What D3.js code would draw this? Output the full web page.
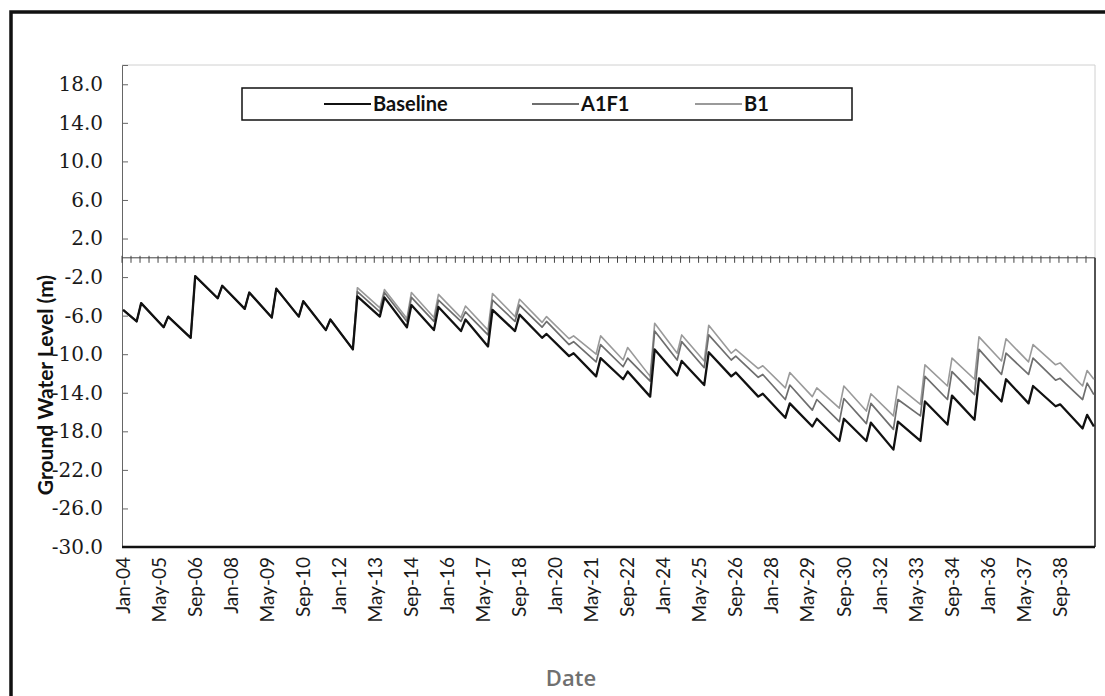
<!DOCTYPE html>
<html>
<head>
<meta charset="utf-8">
<script src="https://cdn.jsdelivr.net/npm/d3@7"></script>
<style>
    body { margin: 0; background: #fff; }
    svg { display: block; }
</style>
</head>
<body>
<svg id="chart" width="1105" height="696"></svg>
<script>
(function() {

    // monthly categories, Jan-04 .. Dec-39
    var months = d3.timeMonth.range(new Date(2004, 0, 1), new Date(2040, 0, 1));
    var monthKey = d3.timeFormat("%Y-%m");
    var monthLabel = d3.timeFormat("%b-%y");

    // turning points of the curves: Jan-04, then low (Jul) and high (Sep) of each year, then Dec-39
    var years = d3.range(2004, 2040);
    var turnDates = ["2004-01"];
    years.forEach(function(yr) { turnDates.push(yr + "-07", yr + "-09"); });
    turnDates.push("2039-12");

    var seriesNames = ["Baseline", "A1F1", "B1"];

    var baseline = [
        -5.4,
        -6.6, -4.7,   -7.2, -6.1,   -8.3, -1.9,   -4.2, -2.9,   -5.3, -3.6,   // 2004-2008
        -6.2, -3.2,   -6.1, -4.5,   -7.5, -6.4,   -9.5, -4.0,   -6.1, -4.1,   // 2009-2013
        -7.2, -4.9,   -7.5, -5.1,   -7.6, -6.4,   -9.2, -5.4,   -7.6, -5.9,   // 2014-2018
        -8.3, -7.9,  -10.2, -9.9,  -12.3, -10.4, -12.6, -11.8, -14.4, -9.5,   // 2019-2023
        -12.2, -10.7, -13.2, -9.8, -12.3, -11.9, -14.4, -14.1, -16.6, -15.1,  // 2024-2028
        -17.5, -16.7, -19.0, -16.7, -19.0, -17.1, -19.9, -17.0, -19.0, -14.9, // 2029-2033
        -17.3, -14.3, -16.8, -12.5, -14.9, -12.6, -15.1, -13.3, -15.4, -15.2, // 2034-2038
        -17.7, -16.3,
        -17.5
    ];

    var a1f1 = [
        -5.4,
        -6.6, -4.7,   -7.2, -6.1,   -8.3, -1.9,   -4.2, -2.9,   -5.3, -3.6,
        -6.2, -3.2,   -6.1, -4.5,   -7.5, -6.4,   -9.5, -3.5,   -5.6, -3.6,
        -6.6, -4.1,   -6.6, -4.4,   -6.6, -5.6,   -8.0, -4.4,   -6.6, -4.9,
        -7.2, -6.6,   -9.0, -8.7,  -10.8, -9.0,  -11.3, -10.4, -12.8, -7.6,
        -10.6, -8.7,  -11.4, -8.0, -10.6, -10.2, -12.4, -12.1, -14.7, -13.2,
        -15.8, -14.7, -17.0, -14.6, -17.2, -15.1, -17.8, -14.7, -16.4, -12.3,
        -14.7, -11.8, -14.2, -9.5, -12.1, -9.9,  -12.1, -10.4, -12.7, -12.5,
        -14.7, -13.0,
        -14.2
    ];

    var b1 = [
        -5.4,
        -6.6, -4.7,   -7.2, -6.1,   -8.3, -1.9,   -4.2, -2.9,   -5.3, -3.6,
        -6.2, -3.2,   -6.1, -4.5,   -7.5, -6.4,   -9.5, -3.1,   -5.2, -3.3,
        -6.3, -3.6,   -6.2, -3.8,   -6.2, -5.0,   -7.5, -3.7,   -6.1, -4.3,
        -6.7, -6.1,   -8.4, -8.1,  -10.0, -8.1,  -10.6, -9.3,  -12.3, -6.8,
        -9.9, -8.0,  -10.7, -7.0,   -9.9, -9.5,  -11.5, -11.2, -13.5, -11.9,
        -14.4, -13.5, -15.6, -13.3, -15.9, -14.1, -16.4, -13.3, -15.2, -11.1,
        -13.3, -10.4, -12.6, -8.2, -10.7, -8.4,  -10.8, -9.0,  -11.1, -10.9,
        -13.3, -11.7,
        -12.6
    ];

    var yTicks = d3.range(-30, 19, 4);

    //畫布
    var svg = d3.select("#chart");
    var plot = { left: 122, right: 1095, top: 65, bottom: 547 };

    var x = d3.scaleBand()
        .domain(months.map(monthKey))
        .range([plot.left, plot.right]);
    var xc = function(k) { return x(k) + x.bandwidth() / 2; };

    var y = d3.scaleLinear()
        .domain([-30, 20])
        .range([plot.bottom, plot.top]);

    // outer frame (top and left only, the rest is cut off in the scan)
    svg.append("path")
        .attr("d", "M11,696V12H1105")
        .attr("fill", "none")
        .attr("stroke", "#111")
        .attr("stroke-width", 3.5);

    // plot border
    svg.append("path")
        .attr("d", "M" + plot.left + "," + plot.top + "H" + plot.right + "V" + plot.bottom)
        .attr("fill", "none")
        .attr("stroke", "#d0d0d0")
        .attr("stroke-width", 1);
    svg.append("line")
        .attr("x1", plot.right).attr("x2", plot.right)
        .attr("y1", y(0)).attr("y2", plot.bottom)
        .attr("stroke", "#222").attr("stroke-width", 1.5);

    // value axis
    var yAxis = d3.axisLeft(y)
        .tickValues(yTicks)
        .tickSize(-6)
        .tickPadding(19)
        .tickFormat(function(d) { return d.toFixed(1); });

    var gy = svg.append("g")
        .attr("transform", "translate(" + plot.left + ",0)")
        .call(yAxis);
    gy.select(".domain").attr("stroke", "#666");
    gy.selectAll(".tick line").attr("stroke", "#666");
    gy.selectAll(".tick text")
        .attr("fill", "#1a1a1a")
        .style("font-family", "'DejaVu Serif', serif")
        .style("font-size", "20px");

    // category axis crossing at 0, with a tick every 4 months
    var zeroY = y(0);
    svg.append("line")
        .attr("x1", plot.left).attr("x2", plot.right)
        .attr("y1", zeroY).attr("y2", zeroY)
        .attr("stroke", "#444").attr("stroke-width", 1);

    svg.append("g").selectAll("line")
        .data(months.filter(function(d, i) { return i % 4 === 0; }))
        .enter().append("line")
        .attr("x1", function(d) { return x(monthKey(d)); })
        .attr("x2", function(d) { return x(monthKey(d)); })
        .attr("y1", zeroY - 2)
        .attr("y2", zeroY + 5)
        .attr("stroke", "#444")
        .attr("stroke-width", 1);

    // bottom edge of the plot
    svg.append("line")
        .attr("x1", plot.left).attr("x2", plot.right)
        .attr("y1", plot.bottom).attr("y2", plot.bottom)
        .attr("stroke", "#111").attr("stroke-width", 2.5);

    // date labels (every 16 months), rotated
    svg.append("g").selectAll("text")
        .data(months.filter(function(d, i) { return i % 16 === 0; }))
        .enter().append("text")
        .attr("transform", function(d) {
            return "translate(" + xc(monthKey(d)) + "," + (plot.bottom + 10) + ") rotate(-90)";
        })
        .attr("dy", "0.35em")
        .attr("text-anchor", "end")
        .attr("fill", "#1a1a1a")
        .style("font-family", "Lato, sans-serif")
        .style("font-size", "19px")
        .text(function(d) { return monthLabel(d); });

    // lines
    var line = d3.line()
        .x(function(d, i) { return xc(turnDates[i]); })
        .y(function(d) { return y(d); });

    var series = [
        { name: seriesNames[2], values: b1, color: "#9a9a9a", width: 1.6 },
        { name: seriesNames[1], values: a1f1, color: "#6e6e6e", width: 1.7 },
        { name: seriesNames[0], values: baseline, color: "#111", width: 2.3 }
    ];

    svg.append("g").selectAll("path")
        .data(series)
        .enter().append("path")
        .attr("d", function(d) { return line(d.values); })
        .attr("fill", "none")
        .attr("stroke", function(d) { return d.color; })
        .attr("stroke-width", function(d) { return d.width; })
        .attr("stroke-linejoin", "round");

    // legend
    var legend = svg.append("g");
    legend.append("rect")
        .attr("x", 242).attr("y", 88)
        .attr("width", 610).attr("height", 32)
        .attr("fill", "#fff")
        .attr("stroke", "#111")
        .attr("stroke-width", 1.5);

    var legendX = [324, 532, 695];
    var legendItems = series.slice().reverse();
    var li = legend.selectAll("g.item")
        .data(legendItems)
        .enter().append("g")
        .attr("class", "item")
        .attr("transform", function(d, i) { return "translate(" + legendX[i] + ",104)"; });
    li.append("line")
        .attr("x1", 0).attr("x2", 47)
        .attr("stroke", function(d) { return d.color; })
        .attr("stroke-width", 1.8);
    li.append("text")
        .attr("x", 49)
        .attr("dy", "0.35em")
        .attr("fill", "#111")
        .style("font-family", "Lato, sans-serif")
        .style("font-weight", "bold")
        .style("font-size", "20px")
        .text(function(d) { return d.name; });

    // axis titles
    svg.append("text")
        .attr("transform", "translate(46,385) rotate(-90)")
        .attr("text-anchor", "middle")
        .attr("dy", "0.35em")
        .attr("fill", "#111")
        .style("font-family", "Lato, sans-serif")
        .style("font-weight", "bold")
        .style("font-size", "21px")
        .text("Ground Water Level (m)");

    svg.append("text")
        .attr("x", 571)
        .attr("y", 686)
        .attr("text-anchor", "middle")
        .attr("fill", "#707070")
        .style("font-family", "'Open Sans', sans-serif")
        .style("font-weight", "600")
        .style("font-size", "22px")
        .text("Date");

})();
</script>
</body>
</html>
